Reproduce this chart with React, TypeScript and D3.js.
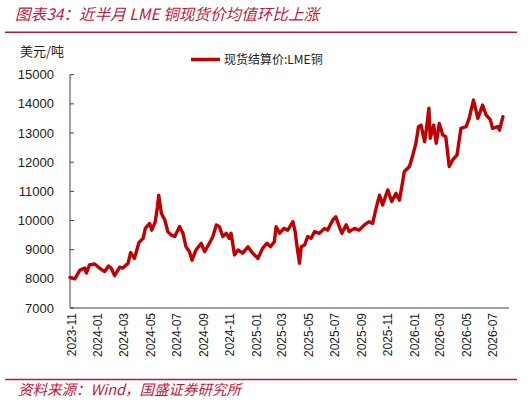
import { scaleLinear, scaleTime, line, curveLinear } from "d3";

const width = 531;
const height = 404;
const margin = { top: 74.7, right: 22, bottom: 96, left: 70 };

// 现货结算价:LME铜 (美元/吨)
const dates = [
  "2023-10-28", "2023-11-08", "2023-11-20", "2023-12-01", "2023-12-05", "2023-12-12",
  "2023-12-24", "2024-01-04", "2024-01-16", "2024-01-25", "2024-01-31", "2024-02-08",
  "2024-02-20", "2024-02-27", "2024-03-10", "2024-03-16", "2024-03-25", "2024-04-04",
  "2024-04-14", "2024-04-19", "2024-04-29", "2024-05-04", "2024-05-12", "2024-05-17",
  "2024-05-20", "2024-05-26", "2024-06-03", "2024-06-10", "2024-06-18", "2024-06-26",
  "2024-07-07", "2024-07-15", "2024-07-22", "2024-07-30", "2024-08-05", "2024-08-14",
  "2024-08-26", "2024-09-03", "2024-09-14", "2024-09-22", "2024-09-30", "2024-10-07",
  "2024-10-15", "2024-10-23", "2024-10-30", "2024-11-03", "2024-11-11", "2024-11-19",
  "2024-11-30", "2024-12-12", "2024-12-23", "2025-01-04", "2025-01-15", "2025-01-25",
  "2025-02-02", "2025-02-11", "2025-02-15", "2025-02-23", "2025-03-05", "2025-03-14",
  "2025-03-26", "2025-03-31", "2025-04-04", "2025-04-10", "2025-04-14", "2025-04-22",
  "2025-04-29", "2025-05-07", "2025-05-15", "2025-05-26", "2025-06-07", "2025-06-14",
  "2025-06-26", "2025-07-03", "2025-07-11", "2025-07-17", "2025-07-27", "2025-08-03",
  "2025-08-15", "2025-08-26", "2025-09-07", "2025-09-18", "2025-09-26", "2025-10-04",
  "2025-10-12", "2025-10-19", "2025-10-31", "2025-11-09", "2025-11-19", "2025-11-27",
  "2025-12-05", "2025-12-08", "2025-12-20", "2025-12-28", "2026-01-04", "2026-01-10",
  "2026-01-16", "2026-01-24", "2026-01-28", "2026-02-03", "2026-02-06", "2026-02-14",
  "2026-02-20", "2026-02-27", "2026-03-07", "2026-03-14", "2026-03-22", "2026-03-30",
  "2026-04-09", "2026-04-18", "2026-04-30", "2026-05-07", "2026-05-17", "2026-05-27",
  "2026-06-07", "2026-06-15", "2026-06-25", "2026-06-30", "2026-07-12", "2026-07-16",
  "2026-07-24",
];
const prices = [
  8050, 8000, 8300, 8370, 8200, 8480,
  8510, 8370, 8250, 8440, 8370, 8110,
  8400, 8370, 8530, 8900, 8700, 9240,
  9390, 9730, 9900, 9670, 9960, 10470,
  10870, 10250, 10020, 9620, 9500, 9450,
  9790, 9560, 9100, 8930, 8640, 8990,
  9220, 8930, 9220, 9450, 9850, 9790,
  9450, 9560, 9390, 9560, 8820, 8990,
  8880, 9100, 8880, 8700, 9050, 9220,
  9100, 9270, 9790, 9560, 9730, 9670,
  9960, 9620, 9160, 8530, 9100, 9160,
  9450, 9390, 9620, 9560, 9730, 9670,
  10020, 10130, 9790, 9560, 9850, 9620,
  9730, 9670, 9850, 9960, 9900, 10420,
  10870, 10530, 11050, 10650, 10930, 10700,
  11390, 11670, 11850, 12250, 12650, 13220,
  13270, 12700, 13100, 13850, 12820, 13270,
  12650, 13330, 12930, 12870, 11850, 12080,
  12250, 13160, 13220, 13500, 14130, 13500,
  13960, 13620, 13450, 13160, 13220, 13100,
  13560,
];

const yTicks = [7000, 8000, 9000, 10000, 11000, 12000, 13000, 14000, 15000];
const xTickLabels = [
  "2023-11", "2024-01", "2024-03", "2024-05", "2024-07", "2024-09", "2024-11",
  "2025-01", "2025-03", "2025-05", "2025-07", "2025-09", "2025-11",
  "2026-01", "2026-03", "2026-05", "2026-07",
];

const parseDay = (s: string) => {
  const [y, m, d] = s.split("-").map(Number);
  return new Date(y, m - 1, d || 1);
};

const series = dates.map((d, i) => ({ date: parseDay(d), value: prices[i] }));

const red = "#c00000";
const titleRed = "#c0143c";
const axisColor = "#404040";
const sans = '"Liberation Sans", Arial, sans-serif';
const cjk = '"Noto Sans CJK SC", "Liberation Sans", sans-serif';

function App() {
  const x0 = margin.left;
  const x1 = width - margin.right;
  const y1 = height - margin.bottom;

  const xScale = scaleTime()
    .domain([parseDay("2023-10-28"), parseDay("2026-08-07")])
    .range([x0, x1]);
  const yScale = scaleLinear().domain([7000, 15000]).range([y1, margin.top]);

  const path = line<{ date: Date; value: number }>()
    .x((d) => xScale(d.date))
    .y((d) => yScale(d.value))
    .curve(curveLinear)(series);

  return (
    <svg
      width={width}
      height={height}
      style={{ display: "block", position: "absolute", left: 0, top: 0 }}
      fontFamily={sans}
    >
      <rect width={width} height={height} fill="white" />
      {/* title */}
      <text
        x={15}
        y={19.5}
        fontSize={15.6}
        fontStyle="italic"
        fill={titleRed}
        fontFamily={cjk}
      >
        图表34：近半月 LME 铜现货价均值环比上涨
      </text>
      <line x1={5} x2={517} y1={32.3} y2={32.3} stroke={titleRed} strokeWidth={1.5} />

      <text x={20} y={56} fontSize={13} fill="#222" fontFamily={cjk}>
        美元/吨
      </text>

      {/* legend */}
      <line x1={191} x2={220} y1={59.5} y2={59.5} stroke={red} strokeWidth={3.5} />
      <text x={224} y={64} fontSize={12} fill="#222" fontFamily={cjk}>
        现货结算价:LME铜
      </text>

      {/* y axis */}
      <line x1={x0} x2={x0} y1={margin.top} y2={y1} stroke={axisColor} strokeWidth={1} />
      {yTicks.map((t) => (
        <g key={t}>
          <line
            x1={x0}
            x2={x0 + 4}
            y1={yScale(t)}
            y2={yScale(t)}
            stroke={axisColor}
          />
          <text
            x={54}
            y={yScale(t)}
            dy="0.35em"
            textAnchor="end"
            fontSize={13}
            fill="#222"
          >
            {t}
          </text>
        </g>
      ))}

      {/* x axis */}
      <line x1={x0} x2={x1} y1={y1} y2={y1} stroke={axisColor} strokeWidth={1} />
      {xTickLabels.map((l) => {
        const tx = xScale(parseDay(l));
        return (
          <text
            key={l}
            transform={`translate(${tx}, ${y1 + 5}) rotate(-90)`}
            dy="0.35em"
            textAnchor="end"
            fontSize={12}
            fill="#222"
          >
            {l}
          </text>
        );
      })}

      <path
        d={path ?? ""}
        fill="none"
        stroke={red}
        strokeWidth={3.4}
        strokeLinejoin="round"
        strokeLinecap="round"
      />

      {/* footer */}
      <line x1={5} x2={517} y1={379.5} y2={379.5} stroke={titleRed} strokeWidth={1.5} />
      <text
        x={18}
        y={394.5}
        fontSize={14.5}
        fontStyle="italic"
        fill={titleRed}
        fontFamily={cjk}
      >
        资料来源：Wind，国盛证券研究所
      </text>
    </svg>
  );
}

export default App;
